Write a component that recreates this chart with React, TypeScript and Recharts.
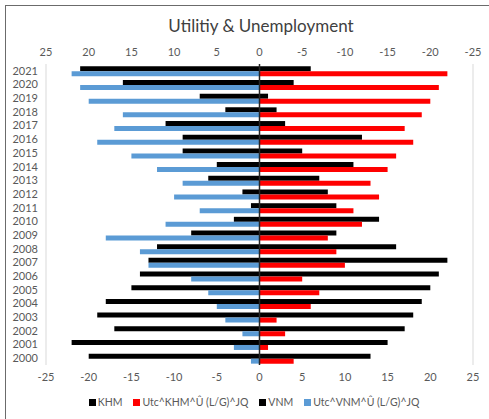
import { BarChart, Bar, XAxis, YAxis, CartesianGrid, ReferenceLine } from 'recharts';

const years = ['2000', '2001', '2002', '2003', '2004', '2005', '2006', '2007', '2008', '2009', '2010',
  '2011', '2012', '2013', '2014', '2015', '2016', '2017', '2018', '2019', '2020', '2021'];

// left side (read on the reversed top axis)
const vnm = [20, 22, 17, 19, 18, 15, 14, 13, 12, 8, 3, 1, 2, 6, 5, 9, 9, 11, 4, 7, 16, 21];
const utcVnm = [1, 3, 2, 4, 5, 6, 8, 13, 14, 18, 11, 7, 10, 9, 12, 15, 19, 17, 16, 20, 21, 22];

// right side (bottom axis)
const khm = [13, 15, 17, 18, 19, 20, 21, 22, 16, 9, 14, 9, 8, 7, 11, 5, 12, 3, 2, 1, 4, 6];
const utcKhm = [4, 1, 3, 2, 6, 7, 5, 10, 9, 8, 12, 11, 14, 13, 15, 16, 18, 17, 19, 20, 21, 22];

const ticks = [-25, -20, -15, -10, -5, 0, 5, 10, 15, 20, 25];

const COLORS = {
  black: '#000000',
  red: '#FF0000',
  blue: '#5B9BD5',
};

const FONT = 'Lato, "Liberation Sans", sans-serif';

// top row of year = 2021, so build the table newest first
const data = years
  .map((y, i) => ({
    year: y,
    vnm: -vnm[i],
    khm: khm[i],
    utcVnm: -utcVnm[i],
    utcKhm: utcKhm[i],
  }))
  .reverse();

const legendItems = [
  { name: 'KHM', color: COLORS.black },
  { name: 'Utc^KHM^Û (L/G)^JQ', color: COLORS.red },
  { name: 'VNM', color: COLORS.black },
  { name: 'Utc^VNM^Û (L/G)^JQ', color: COLORS.blue },
];

export default function App() {
  const tickStyle = { fill: '#595959', fontSize: 11, fontFamily: FONT };

  return (
    <div style={{ position: 'absolute', left: 0, top: 0, width: 489, height: 419, background: '#fff', overflow: 'hidden' }}>
      <div style={{
        position: 'absolute', left: 5, top: 5, width: 500, height: 430,
        borderLeft: '1px solid #6b6b6b', borderTop: '1px solid #6b6b6b'
      }} />
      <div style={{
        position: 'absolute', left: 0, top: 15, width: 522, textAlign: 'center',
        fontFamily: FONT, fontSize: 17, color: '#404040'
      }}>
        Utilitiy &amp; Unemployment
      </div>
      <div style={{ position: 'absolute', left: 0, top: 0 }}>
        <BarChart
          width={489}
          height={419}
          data={data}
          layout="vertical"
          stackOffset="sign"
          barCategoryGap="17%"
          barGap={0}
          margin={{ top: 64, right: 16, bottom: 24, left: 4 }}
        >
          <CartesianGrid horizontal={false} stroke="#d9d9d9" />
          <XAxis
            type="number"
            xAxisId="bottom"
            orientation="bottom"
            domain={[-25, 25]}
            ticks={ticks}
            axisLine={false}
            tickLine={false}
            tick={tickStyle}
            interval={0}
          />
          <YAxis
            type="category"
            dataKey="year"
            width={42}
            axisLine={false}
            tickLine={false}
            tick={tickStyle}
            interval={0}
          />
          <Bar dataKey="vnm" xAxisId="bottom" stackId="a" fill={COLORS.black} isAnimationActive={false} />
          <Bar dataKey="khm" xAxisId="bottom" stackId="a" fill={COLORS.black} isAnimationActive={false} />
          <Bar dataKey="utcVnm" xAxisId="bottom" stackId="b" fill={COLORS.blue} isAnimationActive={false} />
          <Bar dataKey="utcKhm" xAxisId="bottom" stackId="b" fill={COLORS.red} isAnimationActive={false} />
          <ReferenceLine x={0} xAxisId="bottom" stroke="#262626" strokeWidth={1.5} />
        </BarChart>
      </div>
      {/* secondary (reversed) axis along the top, same plot box */}
      <div style={{ position: 'absolute', left: 0, top: 0, pointerEvents: 'none' }}>
        <BarChart
          width={489}
          height={419}
          data={data}
          layout="vertical"
          stackOffset="sign"
          margin={{ top: 34, right: 16, bottom: 54, left: 46 }}
        >
          <XAxis
            type="number"
            xAxisId="top"
            orientation="top"
            domain={[-25, 25]}
            ticks={ticks}
            axisLine={false}
            tickLine={false}
            tick={tickStyle}
            interval={0}
            tickFormatter={(v: number) => (v === 0 ? '0' : String(-v))}
          />
          <YAxis type="category" dataKey="year" hide />
          <Bar dataKey="khm" xAxisId="top" fill="transparent" isAnimationActive={false} />
        </BarChart>
      </div>
      <div style={{
        position: 'absolute', left: 0, top: 396, width: 508,
        display: 'flex', justifyContent: 'center', gap: 11,
        fontFamily: FONT, fontSize: 10.5, color: '#595959'
      }}>
        {legendItems.map((item, index) => (
          <div key={index} style={{ display: 'flex', alignItems: 'center', gap: 2 }}>
            <div style={{ width: 7, height: 7, backgroundColor: item.color }} />
            <span>{item.name}</span>
          </div>
        ))}
      </div>
    </div>
  );
}
